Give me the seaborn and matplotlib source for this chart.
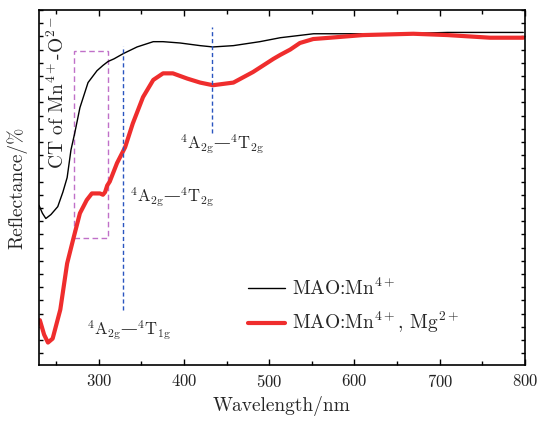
import numpy as np
import pandas as pd
import matplotlib
matplotlib.use("Agg")
import matplotlib.pyplot as plt
import matplotlib.patches as mpatches
from matplotlib.ticker import MultipleLocator, NullFormatter
import seaborn as sns

# Data
wl_black = [230, 234, 238, 244, 252, 258, 263, 267.5, 272, 278, 287.5, 298, 305, 311, 318,
            329, 345, 364, 375.5, 395.5, 419, 434, 458, 489, 513, 552, 591.5, 650, 709, 760, 798]
r_black = [11.2, 10.6, 10.2, 10.5, 11.1, 12.2, 13.3, 15.4, 16.7, 18.6, 20.5, 21.4, 21.8, 22.1, 22.3,
           22.7, 23.2, 23.6, 23.6, 23.5, 23.3, 23.2, 23.3, 23.6, 23.9, 24.2, 24.2, 24.2, 24.3, 24.3, 24.3]

wl_red = [231, 236, 240.5, 246, 255, 263, 270, 278, 286, 292, 301.5, 305, 307.5, 310, 313, 321.5,
          331, 340, 352, 364, 375.5, 387, 404, 419, 434, 458, 481, 505, 513, 524.6, 536, 551.6,
          571.5, 610, 669, 709, 759, 798]
r_red = [2.5, 1.4, 0.8, 1.1, 3.3, 6.8, 8.6, 10.6, 11.6, 12.1, 12.1, 12.0, 12.2, 12.7, 13.0, 14.4,
         15.6, 17.4, 19.4, 20.7, 21.2, 21.2, 20.8, 20.5, 20.3, 20.5, 21.3, 22.3, 22.6, 23.0, 23.5, 23.8,
         23.9, 24.1, 24.2, 24.1, 23.9, 23.9]

label_black = r"MAO:Mn$^{4+}$"
label_red = r"MAO:Mn$^{4+}$, Mg$^{2+}$"

df = pd.concat([
    pd.DataFrame({"Wavelength": wl_black, "R": r_black, "Sample": label_black}),
    pd.DataFrame({"Wavelength": wl_red, "R": r_red, "Sample": label_red}),
])

sns.set_theme(style="ticks")
plt.rcParams["font.family"] = ["cmr10", "DejaVu Serif"]
plt.rcParams["mathtext.fontset"] = "cm"
plt.rcParams["axes.formatter.use_mathtext"] = True
plt.rcParams["axes.unicode_minus"] = False

fig = plt.figure(figsize=(5.42, 4.23), dpi=100)
ax = fig.add_axes([39/542, 1 - 365/423, 486/542, 355/423])

sns.lineplot(data=df, x="Wavelength", y="R", hue="Sample", size="Sample",
             palette={label_black: "black", label_red: "#ef2d2d"},
             sizes={label_black: 1.0, label_red: 3.0},
             sort=False, estimator=None, ax=ax)

ax.set_xlim(230, 800)
ax.set_ylim(-0.9, 26.0)
ax.xaxis.set_major_locator(MultipleLocator(100))
ax.xaxis.set_minor_locator(MultipleLocator(50))
ax.yaxis.set_major_locator(MultipleLocator(1))
ax.yaxis.set_major_formatter(NullFormatter())
ax.tick_params(axis="both", which="both", direction="in", top=True, right=True,
               color="black", width=1.0)
ax.tick_params(axis="x", which="major", length=4, labelsize=12, pad=6, labelcolor="#222222")
ax.tick_params(axis="x", which="minor", length=3)
ax.tick_params(axis="y", which="major", length=3)
for s in ax.spines.values():
    s.set_color("black")
    s.set_linewidth(1.2)

ax.set_xlabel("Wavelength/nm", fontsize=14, labelpad=4)
ax.set_ylabel("Reflectance/%", fontsize=14, labelpad=5)

# Annotations
ax.vlines(329, 3.3, 23.3, colors="#2a55c0", linestyles=(0, (3, 2)), linewidth=1.0)
ax.vlines(433, 16.7, 24.7, colors="#2a55c0", linestyles=(0, (3, 2)), linewidth=1.0)
ax.add_patch(mpatches.Rectangle((271, 8.7), 40, 14.2, fill=False, edgecolor="#c070c8",
                                linestyle=(0, (4, 2.5)), linewidth=1.0))

ax.text(251, 19.7, r"CT of Mn$^{4+}$-O$^{2-}$", rotation=90, ha="center", va="center", fontsize=14)

def trans(lower, upper):
    return (r"$^4\mathrm{A}_{" + lower[0] + r"\mathrm{" + lower[1:] + r"}}$" + "\u2014" +
            r"$^4\mathrm{T}_{" + upper[0] + r"\mathrm{" + upper[1:] + r"}}$")

ax.text(395.5, 15.8, trans("2g", "2g"), ha="left", va="center", fontsize=12, family="DejaVu Serif")
ax.text(336.8, 11.8, trans("2g", "2g"), ha="left", va="center", fontsize=12, family="DejaVu Serif")
ax.text(286, 1.74, trans("2g", "1g"), ha="left", va="center", fontsize=12, family="DejaVu Serif")

ax.legend(loc="upper left", bbox_to_anchor=(0.43, 0.247), frameon=False, fontsize=14,
          handlelength=1.9, handletextpad=0.36, labelspacing=0.6, borderpad=0, borderaxespad=0)

fig.savefig("out.png", dpi=100)
